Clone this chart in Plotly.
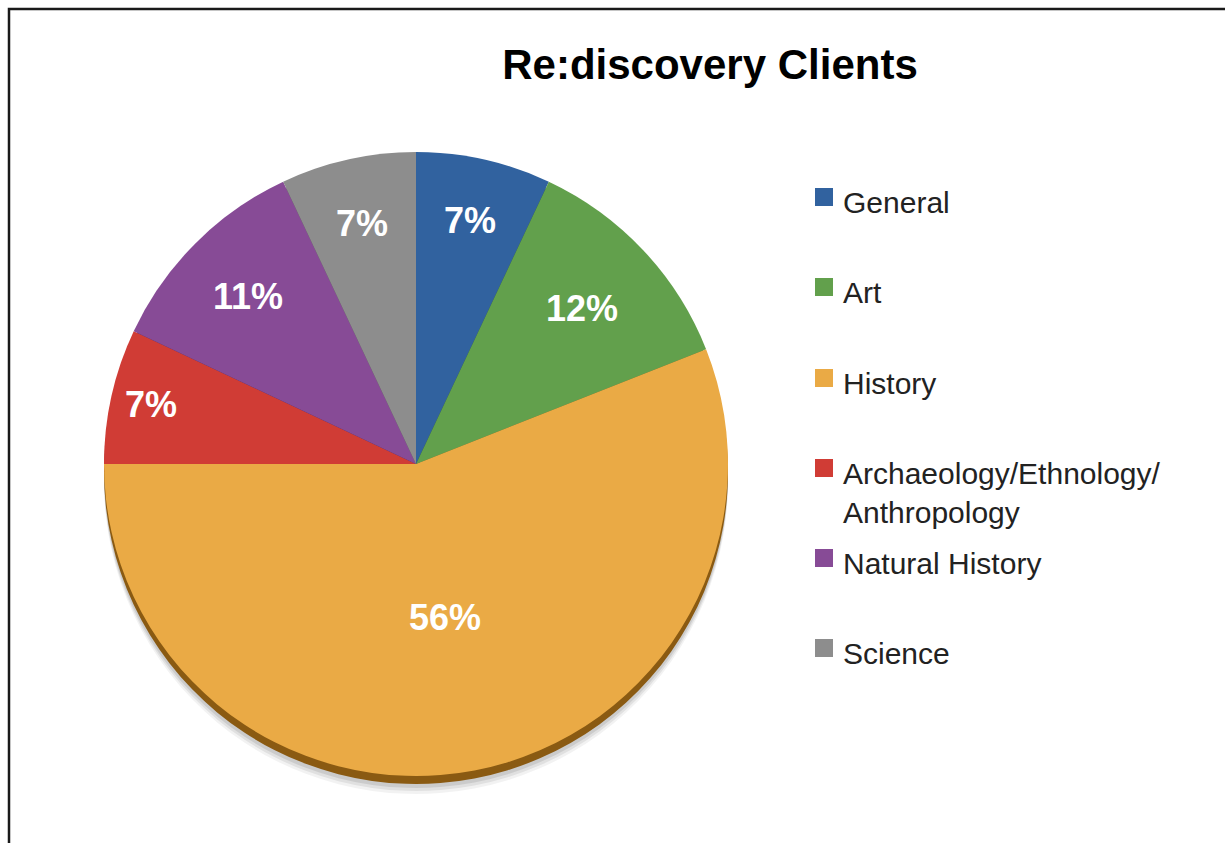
import math
import plotly.graph_objects as go

# Client breakdown by museum type (percent of clients)
categories = ["General", "Art", "History", "Archaeology/Ethnology/Anthropology",
              "Natural History", "Science"]
shares = [7, 12, 56, 7, 11, 7]

# Slice styling
colors = ["#31629f", "#62a04c", "#eaaa45", "#d03c35", "#874b96", "#8d8d8d"]
edge_colors = ["#1d3c63", "#3c6630", "#8a5a12", "#7c1e1a", "#4f2a58", "#555555"]
label_radius = [0.80, 0.73, 0.50, 0.87, 0.76, 0.79]  # label distance as fraction of radius

W, H = 1225, 843
CX, CY, R = 416, 464, 312  # pie centre / radius in page pixels (y from top)
FONT = "Liberation Sans, Arial, Helvetica, sans-serif"


def domain(cx, cy, r):
    return dict(x=[(cx - r) / W, (cx + r) / W],
                y=[(H - cy - r) / H, (H - cy + r) / H])


def pie(cols, dy=0, name=None, opacity=1.0):
    return go.Pie(
        labels=categories, values=shares, sort=False, direction="clockwise",
        rotation=0, marker=dict(colors=cols, line=dict(width=0)),
        textinfo="none", hoverinfo="skip" if name is None else "label+percent",
        showlegend=False, domain=domain(CX, CY + dy, R), opacity=opacity,
        name=name or "",
    )


fig = go.Figure()
# soft drop shadow under the disc
for dy, a in [(18, 0.05), (15, 0.07), (12, 0.09)]:
    fig.add_trace(pie(["rgba(0,0,0,%.2f)" % a] * len(shares), dy=dy))
# darker rim giving the disc some thickness
fig.add_trace(pie(edge_colors, dy=8))
# top face
fig.add_trace(pie(colors, name="Clients"))

annotations = []
# percentage labels at each slice's mid angle
total = sum(shares)
cum = 0
for v, f in zip(shares, label_radius):
    mid = (cum + v / 2) / total * 2 * math.pi
    cum += v
    px = CX + f * R * math.sin(mid)
    py = CY - f * R * math.cos(mid)
    annotations.append(dict(
        x=px / W, y=1 - py / H, xref="paper", yref="paper",
        text="%d%%" % round(v / total * 100), showarrow=False,
        xanchor="center", yanchor="middle",
        font=dict(family=FONT, size=36, color="white", weight="bold"),
    ))

# legend: coloured squares with category names
shapes = []
legend_y = [202, 292, 383, 493, 563, 653]
for cat, col, ly in zip(categories, colors, legend_y):
    text = cat.replace("Ethnology/", "Ethnology/<br>")
    marker_y = ly - 5 if "<br>" not in text else ly - 25
    shapes.append(dict(
        type="rect", xref="paper", yref="paper",
        x0=815 / W, x1=833 / W, y0=1 - (marker_y + 9) / H, y1=1 - (marker_y - 9) / H,
        fillcolor=col, line=dict(width=0),
    ))
    annotations.append(dict(
        x=841 / W, y=1 - ly / H, xref="paper", yref="paper", text=text,
        showarrow=False, xanchor="left", yanchor="middle", align="left",
        font=dict(family=FONT, size=30, color="#222222"),
    ))

# frame around the slide
shapes.append(dict(type="rect", xref="paper", yref="paper",
                   x0=9 / W, x1=1.05, y0=-0.05, y1=1 - 9 / H,
                   line=dict(color="#1a1a1a", width=2.5), fillcolor="rgba(0,0,0,0)"))

fig.update_layout(
    width=W, height=H, margin=dict(l=0, r=0, t=0, b=0),
    paper_bgcolor="white", plot_bgcolor="white",
    title=dict(text="Re:discovery Clients", x=710 / W, y=1 - 64 / H,
               xanchor="center", yanchor="middle",
               font=dict(family=FONT, size=42, color="black", weight="bold")),
    annotations=annotations, shapes=shapes, showlegend=False,
)

fig.write_html("out.html")
